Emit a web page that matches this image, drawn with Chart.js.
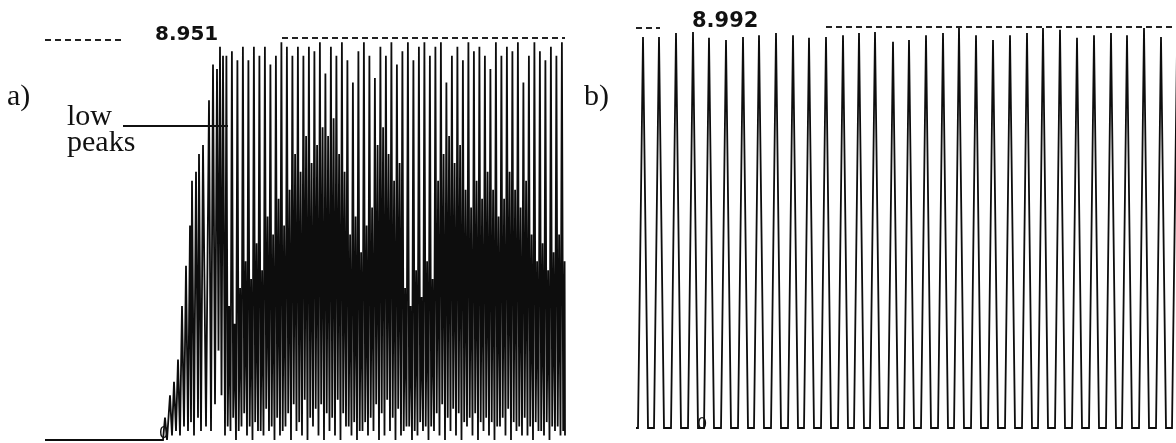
<!DOCTYPE html>
<html lang="en">
<head>
<meta charset="UTF-8">
<title>Oscillation traces a) and b)</title>
<script src="https://cdn.jsdelivr.net/npm/chart.js"></script>
<style>
  body { margin: 0; background: #fff; width: 1176px; height: 443px; overflow: hidden; position: relative; }
  canvas { position: absolute; top: 0; }
  #chartA { left: 0; }
  #chartB { left: 580px; }
</style>
</head>
<body>
<canvas id="chartA" width="580" height="443"></canvas>
<canvas id="chartB" width="596" height="443"></canvas>
<script>
// ---- trace a) : flat start, ramp-up, then dense oscillation ----
const aMax = 8.951;
const aRampTime = [0, 118, 120, 122, 125, 127, 129, 131, 133, 135,
  137, 139, 141, 143, 145, 146, 147, 149, 151, 153,
  154, 156, 158, 161, 164, 166, 168, 170, 172, 173.5,
  175, 176.5, 178];
const aRampValue = [0, 0, 0.5, 0.0, 1.0, 0.1, 1.3, 0.2, 1.8, 0.1,
  3.0, 0.3, 3.9, 0.2, 4.8, 0.4, 5.8, 0.1, 6.0, 0.5,
  6.4, 0.2, 6.6, 0.3, 7.6, 0.2, 8.4, 0.8, 8.3, 2.0,
  8.8, 1.0, 8.6];

// dense part, one entry per cycle: trough -> tall peak -> dip -> low peak
const aCycleTime = [180, 185.5, 191, 196.5, 202, 207.5, 213, 218.5, 224, 229.5,
  235, 240.5, 246, 251.5, 257, 262.5, 268, 273.5, 279, 284.5,
  290, 295.5, 301, 306.5, 312, 317.5, 323, 328.5, 334, 339.5,
  345, 350.5, 356, 361.5, 367, 372.5, 378, 383.5, 389, 394.5,
  400, 405.5, 411, 416.5, 422, 427.5, 433, 438.5, 444, 449.5,
  455, 460.5, 466, 471.5, 477, 482.5, 488, 493.5, 499, 504.5,
  510, 515.5];
const aTroughs = [0.1, 0.2, 0.0, 0.3, 0.1, 0.0, 0.2, 0.1, 0.2, 0.0,
  0.1, 0.3, 0.0, 0.2, 0.1, 0.0, 0.3, 0.1, 0.0, 0.2,
  0.1, 0.0, 0.3, 0.1, 0.0, 0.2, 0.1, 0.2, 0.0, 0.1,
  0.2, 0.0, 0.1, 0.3, 0.0, 0.1, 0.2, 0.0, 0.2, 0.1,
  0.0, 0.2, 0.1, 0.0, 0.3, 0.1, 0.0, 0.2, 0.1, 0.0,
  0.3, 0.1, 0.0, 0.2, 0.1, 0.1, 0.0, 0.2, 0.1, 0.0,
  0.2, 0.1];
const aTallPeaks = [8.6, 8.7, 8.5, 8.8, 8.5, 8.8, 8.6, 8.8, 8.4, 8.6,
  8.9, 8.8, 8.6, 8.8, 8.6, 8.8, 8.7, 8.9, 8.2, 8.8,
  8.6, 8.9, 8.5, 8.0, 8.7, 8.9, 8.6, 8.1, 8.8, 8.6,
  8.9, 8.4, 8.7, 8.9, 8.5, 8.8, 8.9, 8.6, 8.8, 8.9,
  8.0, 8.6, 8.8, 8.5, 8.9, 8.7, 8.8, 8.6, 8.3, 8.9,
  8.6, 8.8, 8.7, 8.9, 8.0, 8.6, 8.9, 8.7, 8.5, 8.8,
  8.6, 8.9];
const aDips = [0.3, 0.5, 0.2, 0.6, 0.3, 0.4, 0.2, 0.7, 0.3, 0.5,
  0.2, 0.6, 0.8, 0.4, 0.9, 0.5, 0.7, 0.8, 0.6, 0.5,
  0.9, 0.6, 0.3, 0.4, 0.2, 0.4, 0.5, 0.8, 0.6, 0.9,
  0.5, 0.7, 0.2, 0.3, 0.2, 0.4, 0.3, 0.3, 0.6, 0.8,
  0.5, 0.7, 0.6, 0.4, 0.5, 0.6, 0.4, 0.5, 0.4, 0.3,
  0.5, 0.7, 0.4, 0.3, 0.5, 0.3, 0.4, 0.2, 0.4, 0.3,
  0.3, 0.2];
const aLowPeaks = [3.0, 2.6, 3.4, 4.0, 3.6, 4.4, 3.8, 5.0, 4.6, 5.4,
  4.8, 5.6, 6.4, 6.0, 6.8, 6.2, 6.6, 7.0, 6.8, 7.2,
  6.4, 6.0, 4.6, 5.0, 4.2, 4.8, 5.2, 6.6, 7.0, 6.4,
  5.8, 6.2, 3.4, 3.0, 3.8, 3.2, 4.0, 3.6, 5.8, 6.4,
  6.8, 6.2, 6.6, 5.6, 5.2, 5.8, 5.4, 6.0, 5.6, 5.0,
  5.4, 6.0, 5.6, 5.2, 5.8, 4.6, 4.0, 4.4, 3.8, 4.2,
  4.6, 4.0];
const aEndTime = 520;
const aEndValue = 0.1;

// ---- trace b) : regular oscillation, sharp peaks and flat troughs ----
const bMax = 8.992;
const bStartTime = [0, 2];
const bPeakTime = [7, 23, 40, 57, 73, 90, 107, 123, 140, 157,
  173, 190, 207, 223, 239, 257, 273, 290, 307, 323,
  340, 357, 374, 391, 407, 424, 441, 458, 475, 491,
  508, 525, 541];
const bPeakValue = [8.79, 8.79, 8.88, 8.90, 8.77, 8.72, 8.79, 8.83, 8.88, 8.83,
  8.77, 8.79, 8.83, 8.88, 8.90, 8.68, 8.72, 8.83, 8.88, 8.99,
  8.83, 8.72, 8.83, 8.88, 8.99, 8.95, 8.77, 8.83, 8.88, 8.83,
  8.99, 8.79, 8.54];
const bFloorStart = [12, 28, 45, 62, 78, 95, 112, 128, 145, 162,
  178, 195, 212, 228, 244, 262, 278, 295, 312, 328,
  345, 362, 379, 396, 412, 429, 446, 463, 480, 496,
  513, 530];
const bFloorEnd = [18, 35, 52, 68, 85, 102, 118, 135, 152, 168,
  185, 202, 218, 234, 252, 268, 285, 302, 318, 335,
  352, 369, 386, 402, 419, 436, 453, 470, 486, 503,
  520, 536];
const bFloorValue = [0, 0, 0, 0, 0, 0, 0, 0, 0, 0,
  0, 0, 0, 0, 0, 0, 0, 0, 0, 0,
  0, 0, 0, 0, 0, 0, 0, 0, 0, 0,
  0, 0];

// build point lists for the library
const aPoints = aRampTime.map((t, i) => ({ x: t, y: aRampValue[i] }));
aCycleTime.forEach((t, i) => {
  aPoints.push({ x: t, y: aTroughs[i] });
  aPoints.push({ x: t + 1.4, y: aTallPeaks[i] });
  aPoints.push({ x: t + 2.7, y: aDips[i] });
  aPoints.push({ x: t + 4.1, y: aLowPeaks[i] });
});
aPoints.push({ x: aEndTime, y: aEndValue });

const bPoints = bStartTime.map(t => ({ x: t, y: 0 }));
bPeakTime.forEach((t, i) => {
  bPoints.push({ x: t, y: bPeakValue[i] });
  if (i < bFloorStart.length) {
    bPoints.push({ x: bFloorStart[i], y: bFloorValue[i] });
    bPoints.push({ x: bFloorEnd[i], y: bFloorValue[i] });
  }
});

function dashed(ctx, x1, x2, y) {
  ctx.save();
  ctx.strokeStyle = '#222';
  ctx.lineWidth = 2;
  ctx.setLineDash([6, 4]);
  ctx.beginPath();
  ctx.moveTo(x1, y);
  ctx.lineTo(x2, y);
  ctx.stroke();
  ctx.restore();
}

const labelsA = {
  id: 'labelsA',
  afterDraw(chart) {
    const ctx = chart.ctx;
    const xs = chart.scales.x, ys = chart.scales.y;
    const top = ys.getPixelForValue(aMax);
    dashed(ctx, xs.getPixelForValue(0), xs.getPixelForValue(78), top);
    dashed(ctx, xs.getPixelForValue(237), xs.getPixelForValue(520), top - 2);
    ctx.save();
    ctx.fillStyle = '#111';
    ctx.font = 'bold 20px "DejaVu Sans"';
    ctx.fillText('8.951', 155, top);
    ctx.font = '30px "Liberation Serif"';
    ctx.fillText('a)', 7, 105);
    ctx.fillText('low', 67, 125);
    ctx.fillText('peaks', 67, 151);
    ctx.font = '15px "DejaVu Sans"';
    ctx.fillText('0', xs.getPixelForValue(118) - 4, ys.getPixelForValue(0) - 2);
    ctx.strokeStyle = '#111';
    ctx.lineWidth = 2;
    ctx.beginPath();
    ctx.moveTo(123, 126);
    ctx.lineTo(228, 126);
    ctx.stroke();
    ctx.restore();
  }
};

const labelsB = {
  id: 'labelsB',
  afterDraw(chart) {
    const ctx = chart.ctx;
    const xs = chart.scales.x, ys = chart.scales.y;
    const top = ys.getPixelForValue(bMax);
    dashed(ctx, xs.getPixelForValue(0), xs.getPixelForValue(24), top);
    dashed(ctx, xs.getPixelForValue(190), xs.getPixelForValue(541), top - 1);
    ctx.save();
    ctx.fillStyle = '#111';
    ctx.font = 'bold 21px "DejaVu Sans"';
    ctx.fillText('8.992', 112, top - 1);
    ctx.font = '30px "Liberation Serif"';
    ctx.fillText('b)', 4, 105);
    ctx.font = '16px "DejaVu Sans"';
    ctx.fillText('0', xs.getPixelForValue(61), ys.getPixelForValue(0) + 1);
    ctx.restore();
  }
};

function makeChart(id, points, maxY, maxX, padding, width, plugin) {
  return new Chart(document.getElementById(id).getContext('2d'), {
    type: 'line',
    data: {
      datasets: [{
        data: points,
        borderColor: '#0d0d0d',
        borderWidth: width,
        pointRadius: 0,
        tension: 0,
        clip: false
      }]
    },
    options: {
      responsive: false,
      animation: false,
      layout: { padding: padding },
      plugins: { legend: { display: false }, tooltip: { enabled: false } },
      scales: {
        x: { type: 'linear', display: false, min: 0, max: maxX },
        y: { display: false, min: 0, max: maxY }
      }
    },
    plugins: [plugin]
  });
}

makeChart('chartA', aPoints, aMax, 520, { left: 45, right: 15, top: 40, bottom: 3 }, 1.8, labelsA);
makeChart('chartB', bPoints, bMax, 540, { left: 56, right: 0, top: 28, bottom: 15 }, 1.8, labelsB);
</script>
</body>
</html>
